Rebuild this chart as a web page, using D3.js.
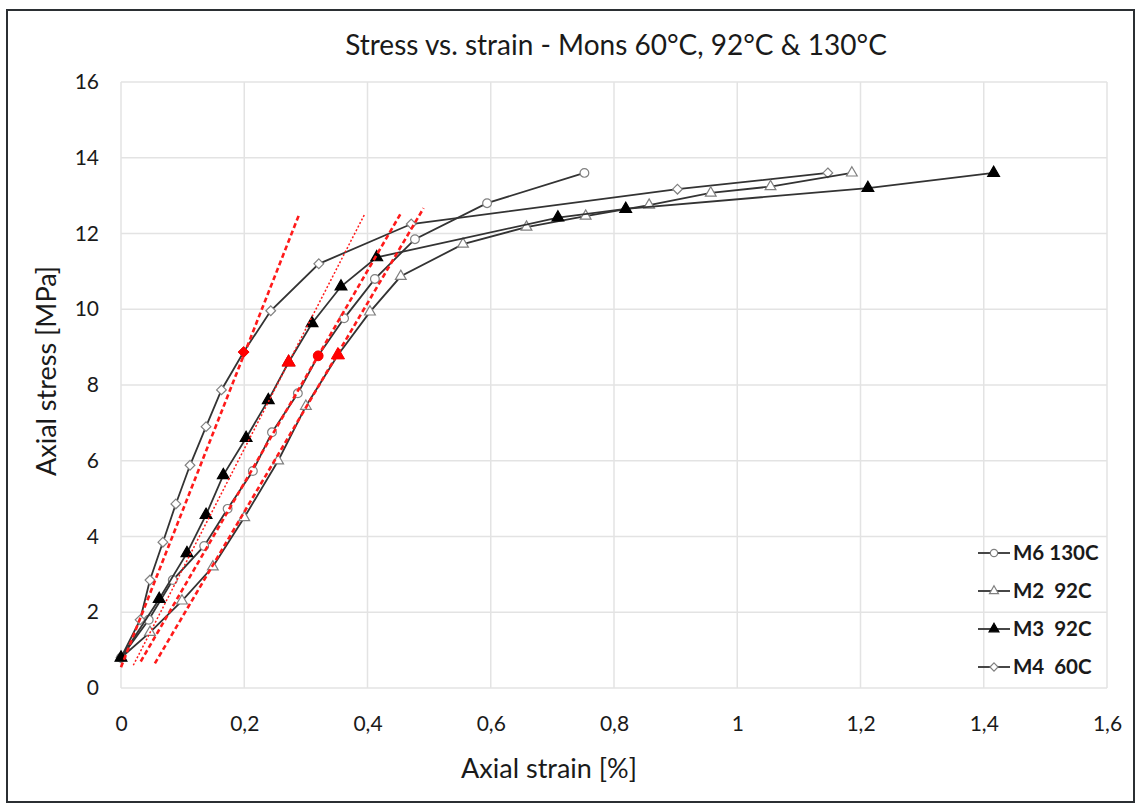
<!DOCTYPE html>
<html><head><meta charset="utf-8">
<script src="https://cdn.jsdelivr.net/npm/d3@7"></script>
<style>
body{margin:0;background:#fff;}
text{font-family:Lato,"Open Sans",sans-serif;fill:#1a1a1a;}
</style></head>
<body><svg id="chart" width="1141" height="806"></svg>
<script>
// ---- data ----
const titleText = "Stress vs. strain - Mons 60°C, 92°C & 130°C";
const xTicks = [0, 0.2, 0.4, 0.6, 0.8, 1, 1.2, 1.4, 1.6];
const yTicks = [0, 2, 4, 6, 8, 10, 12, 14, 16];

const seriesNames = ["M6 130C", "M2  92C", "M3  92C", "M4  60C"];

const strainM6 = [0, 0.045, 0.084, 0.135, 0.173, 0.214, 0.245, 0.287, 0.320, 0.362, 0.412, 0.477, 0.594, 0.752];
const stressM6 = [0.8, 1.8, 2.85, 3.75, 4.73, 5.73, 6.75, 7.78, 8.77, 9.76, 10.8, 11.85, 12.8, 13.6];

const strainM2 = [0, 0.047, 0.099, 0.149, 0.2, 0.255, 0.3, 0.352, 0.404, 0.454, 0.555, 0.658, 0.754, 0.857, 0.957, 1.054, 1.186];
const stressM2 = [0.8, 1.47, 2.3, 3.2, 4.5, 6.0, 7.44, 8.79, 9.93, 10.87, 11.72, 12.17, 12.46, 12.75, 13.07, 13.24, 13.6];

const strainM3 = [0, 0.062, 0.107, 0.138, 0.166, 0.203, 0.239, 0.272, 0.31, 0.357, 0.415, 0.709, 0.819, 1.212, 1.416];
const stressM3 = [0.8, 2.35, 3.56, 4.57, 5.62, 6.6, 7.6, 8.6, 9.63, 10.6, 11.37, 12.42, 12.65, 13.2, 13.6];

const strainM4 = [0, 0.031, 0.047, 0.068, 0.089, 0.112, 0.138, 0.163, 0.199, 0.243, 0.321, 0.471, 0.903, 1.147];
const stressM4 = [0.8, 1.8, 2.85, 3.85, 4.86, 5.88, 6.9, 7.87, 8.87, 9.96, 11.2, 12.25, 13.17, 13.6];

// highlighted (red) points: index into each series
const highlightIdx = [8, 7, 7, 8];

// red tangent lines [strain, stress] start & end
const tangentM6 = [[0.032, 0.7], [0.454, 12.53]];
const tangentM2 = [[0.055, 0.65], [0.491, 12.67]];
const tangentM3 = [[0.02, 0.6], [0.396, 12.53]];
const tangentM4 = [[0, 0.55], [0.289, 12.5]];

// ---- layout ----
const svg = d3.select("#chart");
const L = 121, R = 1107, T = 82, B = 688;
const x = d3.scaleLinear().domain([0, 1.6]).range([L, R]);
const y = d3.scaleLinear().domain([0, 16]).range([B, T]);
const fmt = d => d3.format("")(d).replace(".", ",");

svg.append("rect").attr("x", 7).attr("y", 10).attr("width", 1127).attr("height", 792)
  .attr("fill", "#fff").attr("stroke", "#2b2f33").attr("stroke-width", 2);

// grid
svg.append("g").selectAll("line").data(yTicks).join("line")
  .attr("x1", L).attr("x2", R).attr("y1", d => y(d)).attr("y2", d => y(d))
  .attr("stroke", "#e3e3e3").attr("stroke-width", 1.5);
svg.append("g").selectAll("line").data(xTicks).join("line")
  .attr("x1", d => x(d)).attr("x2", d => x(d)).attr("y1", T).attr("y2", B)
  .attr("stroke", "#e3e3e3").attr("stroke-width", 1.5);

// axes (labels only)
const xAxis = svg.append("g").attr("transform", `translate(0,${B})`)
  .call(d3.axisBottom(x).tickValues(xTicks).tickFormat(fmt).tickSize(0).tickPadding(28));
xAxis.select(".domain").remove();
xAxis.selectAll("text").attr("font-size", 21).attr("fill", "#1a1a1a").style("font-family", "Lato");

const yAxis = svg.append("g").attr("transform", `translate(${L},0)`)
  .call(d3.axisLeft(y).tickValues(yTicks).tickFormat(fmt).tickSize(0).tickPadding(22));
yAxis.select(".domain").remove();
yAxis.selectAll("text").attr("font-size", 21).attr("fill", "#1a1a1a").style("font-family", "Lato");

// titles
svg.append("text").attr("x", 616).attr("y", 55).attr("text-anchor", "middle")
  .attr("font-size", 28).text(titleText);
svg.append("text").attr("x", 549).attr("y", 778).attr("text-anchor", "middle")
  .attr("font-size", 27).text("Axial strain [%]");
svg.append("text").attr("transform", "translate(56,371) rotate(-90)").attr("text-anchor", "middle")
  .attr("font-size", 27).text("Axial stress [MPa]");

// series
const series = [
  {name: seriesNames[0], xs: strainM6, ys: stressM6, sym: d3.symbolCircle, size: 60, fill: "#fff", stroke: "#808080", hi: highlightIdx[0]},
  {name: seriesNames[1], xs: strainM2, ys: stressM2, sym: d3.symbolTriangle, size: 50, fill: "#fff", stroke: "#808080", hi: highlightIdx[1]},
  {name: seriesNames[2], xs: strainM3, ys: stressM3, sym: d3.symbolTriangle, size: 60, fill: "#000", stroke: "#000", hi: highlightIdx[2]},
  {name: seriesNames[3], xs: strainM4, ys: stressM4, sym: d3.symbolDiamond2, size: 60, fill: "#fff", stroke: "#808080", hi: highlightIdx[3]}
];
const line = d3.line().x(d => x(d[0])).y(d => y(d[1]));

const drawOrder = [3, 0, 1, 2];
drawOrder.forEach(i => {
  const s = series[i];
  const pts = s.xs.map((v, k) => [v, s.ys[k]]);
  svg.append("path").datum(pts).attr("d", line).attr("fill", "none")
    .attr("stroke", "#333").attr("stroke-width", 1.8);
  svg.append("g").selectAll("path").data(pts).join("path")
    .attr("transform", d => `translate(${x(d[0])},${y(d[1])})`)
    .attr("d", d3.symbol().type(s.sym).size(s.size))
    .attr("fill", s.fill).attr("stroke", s.stroke).attr("stroke-width", 1.2);
});

// tangent lines
const tangents = [
  {pts: tangentM4, dash: "5,3", w: 2.6},
  {pts: tangentM3, dash: "2,2", w: 1.5},
  {pts: tangentM6, dash: "5,3", w: 2.6},
  {pts: tangentM2, dash: "5,3", w: 2.6}
];
tangents.forEach(t => {
  svg.append("path").datum(t.pts).attr("d", line).attr("fill", "none")
    .attr("stroke", "#ff1a1a").attr("stroke-width", t.w).attr("stroke-dasharray", t.dash);
});

// highlighted points
series.forEach(s => {
  const k = s.hi;
  svg.append("path").attr("transform", `translate(${x(s.xs[k])},${y(s.ys[k])})`)
    .attr("d", d3.symbol().type(s.sym).size(75)).attr("fill", "#ff0000").attr("stroke", "#ff0000");
});

// legend
const lg = svg.append("g");
series.forEach((s, i) => {
  const yy = 553 + i * 38;
  lg.append("line").attr("x1", 978).attr("x2", 1010).attr("y1", yy).attr("y2", yy)
    .attr("stroke", "#333").attr("stroke-width", 1.8);
  lg.append("path").attr("transform", `translate(994,${yy})`)
    .attr("d", d3.symbol().type(s.sym).size(s.size * 0.7))
    .attr("fill", s.fill).attr("stroke", s.stroke).attr("stroke-width", 1.2);
  lg.append("text").attr("x", 1013).attr("y", yy + 7).attr("font-size", 20.5)
    .attr("font-weight", "bold").style("white-space", "pre").text(s.name);
});
</script></body></html>
